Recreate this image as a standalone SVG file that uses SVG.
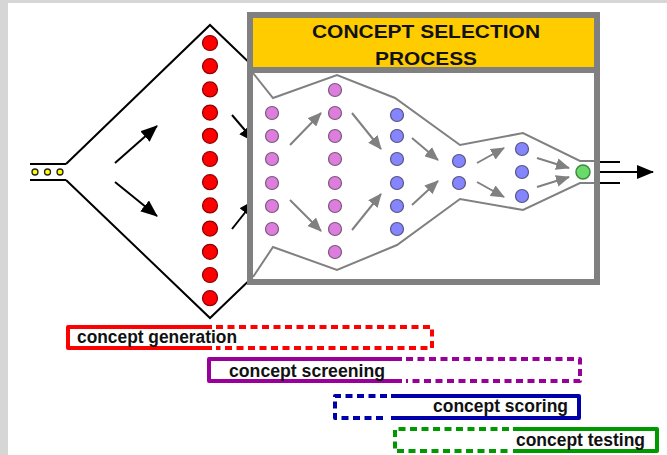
<svg xmlns="http://www.w3.org/2000/svg" width="667" height="455" viewBox="0 0 667 455">
<style>
.bg{fill:#d6d6d6}
.ln{fill:none;stroke:#000;stroke-width:2}
.fun{fill:none;stroke:#808080;stroke-width:2;stroke-linejoin:miter}
.red{fill:#ff0000;stroke:#8a0000;stroke-width:1.2}
.pink{fill:#dd7ddd;stroke:#7a5a7a;stroke-width:1.2}
.blue{fill:#8585ff;stroke:#555580;stroke-width:1.2}
.grn{fill:#6adb6a;stroke:#3f8a3f;stroke-width:1.5}
.yel{fill:#ffff00;stroke:#222;stroke-width:1.3}
.ga{stroke:#808080;stroke-width:2;fill:none;marker-end:url(#gh)}
.ba{stroke:#000;stroke-width:2;fill:none;marker-end:url(#bh)}
.title{font-family:"Liberation Sans",Arial,sans-serif;font-weight:bold;font-size:19px;fill:#111;text-anchor:middle}
.lbl{font-family:"Liberation Sans",Arial,sans-serif;font-weight:bold;font-size:18px;fill:#111}
.sol{fill:none;stroke-width:4;stroke-linejoin:round}
.dsh{fill:none;stroke-width:4;stroke-dasharray:7 4.5;stroke-linejoin:round}
</style>
<defs>
<marker id="bh" markerUnits="userSpaceOnUse" markerWidth="17" markerHeight="14" refX="16" refY="7" orient="auto"><path d="M0,0 L17,7 L0,14 Z" fill="#000"/></marker>
<marker id="gh" markerUnits="userSpaceOnUse" markerWidth="14" markerHeight="12" refX="13" refY="6" orient="auto"><path d="M0,0 L14,6 L0,12 Z" fill="#808080"/></marker>
</defs>
<rect class="bg" x="0" y="0" width="667" height="455"/>
<rect x="8" y="3" width="659" height="452" fill="#fff"/>

<g id="input-tube">
<line class="ln" x1="30" y1="164" x2="66" y2="164"/>
<line class="ln" x1="30" y1="180" x2="66" y2="180"/>
<circle class="yel" cx="35" cy="172" r="3"/>
<circle class="yel" cx="47.5" cy="172" r="3"/>
<circle class="yel" cx="60" cy="172" r="3"/>
</g>

<g id="generation-funnel">
<path class="ln" d="M66,164 L210,25 L262,75 M66,180 L210,318 L262,268"/>
</g>

<g id="connectors">
<line class="ba" x1="115" y1="163" x2="157" y2="126"/>
<line class="ba" x1="115" y1="182" x2="157" y2="216"/>
<line class="ba" x1="232" y1="115" x2="255" y2="142"/>
<line class="ba" x1="232" y1="229" x2="255" y2="200"/>
</g>

<g id="concept-generation-dots">
<circle class="red" cx="210" cy="43" r="7.5"/>
<circle class="red" cx="210" cy="66.2" r="7.5"/>
<circle class="red" cx="210" cy="89.4" r="7.5"/>
<circle class="red" cx="210" cy="112.6" r="7.5"/>
<circle class="red" cx="210" cy="135.8" r="7.5"/>
<circle class="red" cx="210" cy="159" r="7.5"/>
<circle class="red" cx="210" cy="182.2" r="7.5"/>
<circle class="red" cx="210" cy="205.4" r="7.5"/>
<circle class="red" cx="210" cy="228.6" r="7.5"/>
<circle class="red" cx="210" cy="251.8" r="7.5"/>
<circle class="red" cx="210" cy="275" r="7.5"/>
<circle class="red" cx="210" cy="298.2" r="7.5"/>
</g>

<g id="selection-box">
<rect x="250" y="15" width="347" height="267" fill="#fff" stroke="#808080" stroke-width="6"/>
<rect x="253" y="18" width="341" height="49" fill="#ffcc00"/>
<line x1="250" y1="70" x2="597" y2="70" stroke="#808080" stroke-width="6"/>
<text class="title" x="426" y="38" textLength="228" lengthAdjust="spacingAndGlyphs">CONCEPT SELECTION</text>
<text class="title" x="426" y="65" textLength="102" lengthAdjust="spacingAndGlyphs">PROCESS</text>
<polyline class="fun" points="253,73 273,98 337,75 395,98 460,145 523,133 580,161 597,161"/>
<polyline class="fun" points="253,277 273,247 337,270 397,245 460,199 523,210 580,183 597,183"/>
</g>

<g id="screening-dots">
<circle class="pink" cx="272" cy="113" r="6.5"/>
<circle class="pink" cx="272" cy="136" r="6.5"/>
<circle class="pink" cx="272" cy="159" r="6.5"/>
<circle class="pink" cx="272" cy="183" r="6.5"/>
<circle class="pink" cx="272" cy="206" r="6.5"/>
<circle class="pink" cx="272" cy="229" r="6.5"/>
<circle class="pink" cx="335" cy="90" r="6.5"/>
<circle class="pink" cx="335" cy="113" r="6.5"/>
<circle class="pink" cx="335" cy="136" r="6.5"/>
<circle class="pink" cx="335" cy="159" r="6.5"/>
<circle class="pink" cx="335" cy="183" r="6.5"/>
<circle class="pink" cx="335" cy="206" r="6.5"/>
<circle class="pink" cx="335" cy="229" r="6.5"/>
<circle class="pink" cx="335" cy="252" r="6.5"/>
</g>

<g id="scoring-dots">
<circle class="blue" cx="397" cy="115" r="6.5"/>
<circle class="blue" cx="397" cy="136" r="6.5"/>
<circle class="blue" cx="397" cy="159" r="6.5"/>
<circle class="blue" cx="397" cy="183" r="6.5"/>
<circle class="blue" cx="397" cy="206" r="6.5"/>
<circle class="blue" cx="397" cy="229" r="6.5"/>
<circle class="blue" cx="459" cy="161" r="6.5"/>
<circle class="blue" cx="459" cy="183" r="6.5"/>
<circle class="blue" cx="522" cy="149" r="6.5"/>
<circle class="blue" cx="522" cy="172" r="6.5"/>
<circle class="blue" cx="522" cy="196" r="6.5"/>
</g>

<g id="final-concept">
<circle class="grn" cx="583" cy="172" r="7"/>
</g>

<g id="selection-connectors">
<line class="ga" x1="290" y1="145" x2="321" y2="113"/>
<line class="ga" x1="290" y1="200" x2="321" y2="231"/>
<line class="ga" x1="352" y1="113" x2="381" y2="149"/>
<line class="ga" x1="352" y1="230" x2="381" y2="194"/>
<line class="ga" x1="412" y1="138" x2="438" y2="160"/>
<line class="ga" x1="412" y1="205" x2="438" y2="181"/>
<line class="ga" x1="477" y1="163" x2="504" y2="148"/>
<line class="ga" x1="477" y1="182" x2="504" y2="197"/>
<line class="ga" x1="537" y1="158" x2="569" y2="168"/>
<line class="ga" x1="537" y1="187" x2="569" y2="177"/>
</g>

<g id="output">
<line class="ln" x1="600" y1="162" x2="620" y2="162"/>
<line class="ln" x1="600" y1="183" x2="620" y2="183"/>
<line class="ba" x1="600" y1="172" x2="653" y2="172"/>
</g>

<g id="bar-generation">
<path class="sol" stroke="#ff0000" d="M212,327 H68 V348 H212"/>
<path class="dsh" stroke="#ff0000" d="M216,327 H432 V348 H216"/>
<text class="lbl" x="77" y="343" textLength="160" lengthAdjust="spacingAndGlyphs">concept generation</text>
</g>

<g id="bar-screening">
<path class="sol" stroke="#990099" d="M402,359 H209 V381 H402"/>
<path class="dsh" stroke="#990099" d="M406,359 H580 V381 H406"/>
<text class="lbl" x="229" y="377" textLength="156" lengthAdjust="spacingAndGlyphs">concept screening</text>
</g>

<g id="bar-scoring">
<path class="dsh" stroke="#0000aa" d="M387,396 H335 V418 H387"/>
<path class="sol" stroke="#0000aa" d="M391,396 H579 V418 H391"/>
<text class="lbl" x="433" y="412" textLength="135" lengthAdjust="spacingAndGlyphs">concept scoring</text>
</g>

<g id="bar-testing">
<path class="dsh" stroke="#009900" d="M509,429 H395 V451 H509"/>
<path class="sol" stroke="#009900" d="M513,429 H657 V451 H513"/>
<text class="lbl" x="516" y="446" textLength="129" lengthAdjust="spacingAndGlyphs">concept testing</text>
</g>
</svg>
